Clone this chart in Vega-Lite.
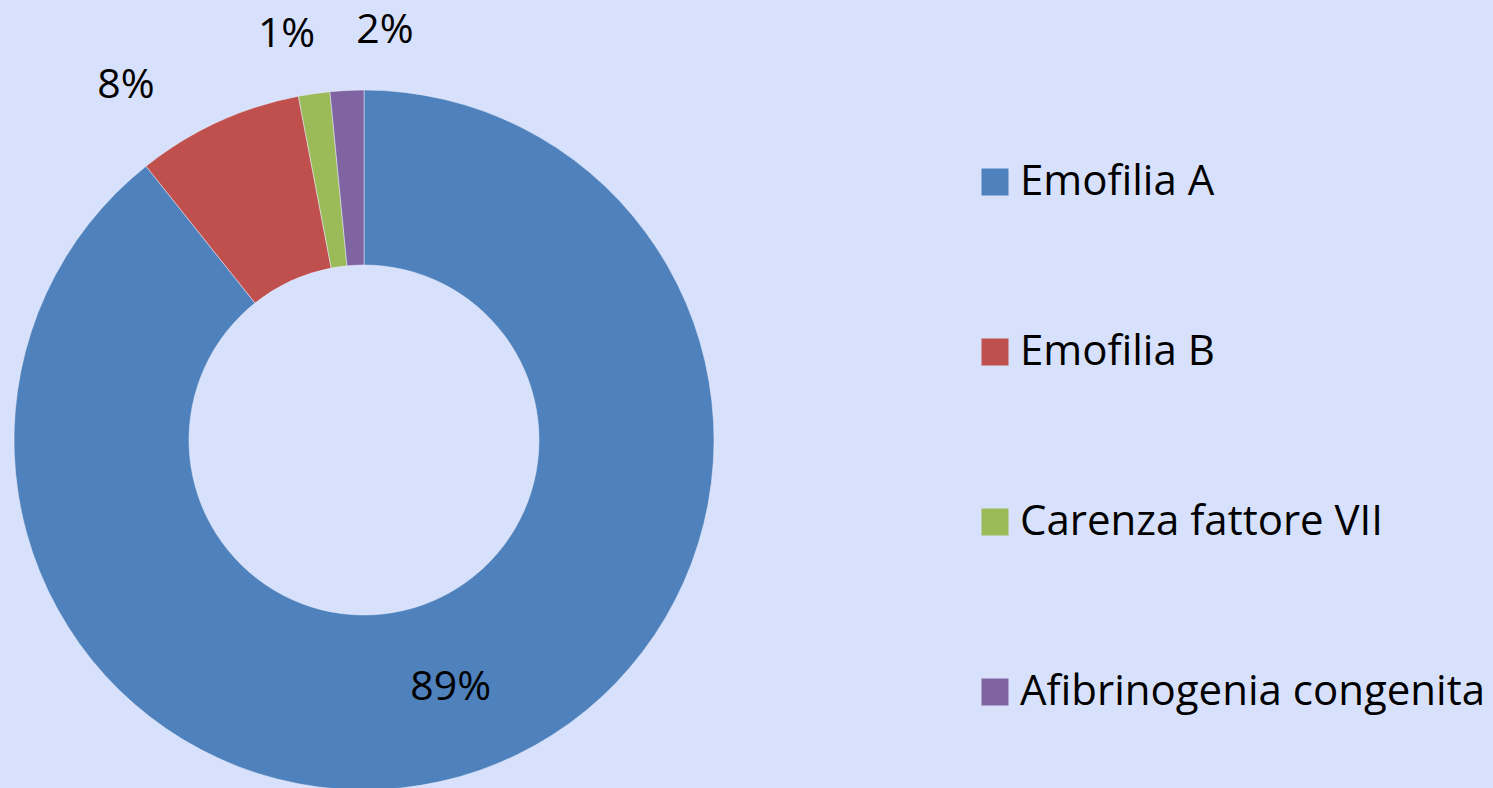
{
  "$schema": "https://vega.github.io/schema/vega-lite/v6.json",
  "autosize": {"type": "none"},
  "width": 728,
  "height": 880,
  "padding": {"left": 0, "top": 0, "right": 765, "bottom": 0},
  "background": "#d8e1fb",
  "config": {"view": {"stroke": null}, "font": "Open Sans"},
  "data": {
    "values": [
      {"n": 1, "patologia": "Emofilia A", "valore": 89.3, "etichetta": "89%"},
      {"n": 2, "patologia": "Emofilia B", "valore": 7.7, "etichetta": "8%"},
      {"n": 3, "patologia": "Carenza fattore VII", "valore": 1.45, "etichetta": "1%"},
      {"n": 4, "patologia": "Afibrinogenia congenita", "valore": 1.55, "etichetta": "2%"}
    ]
  },
  "encoding": {
    "theta": {"field": "valore", "type": "quantitative", "stack": true},
    "order": {"field": "n", "type": "quantitative"}
  },
  "layer": [
    {
      "mark": {"type": "arc", "outerRadius": 350, "innerRadius": 175, "stroke": "#e8eefc", "strokeWidth": 0.5},
      "encoding": {
        "color": {
          "field": "patologia",
          "type": "nominal",
          "sort": ["Emofilia A", "Emofilia B", "Carenza fattore VII", "Afibrinogenia congenita"],
          "scale": {
            "domain": ["Emofilia A", "Emofilia B", "Carenza fattore VII", "Afibrinogenia congenita"],
            "range": ["#4f81bd", "#c0504d", "#9bbb59", "#8064a2"]
          },
          "legend": {
            "title": null,
            "orient": "none",
            "legendX": 974,
            "legendY": 161,
            "padding": 0,
            "symbolType": "square",
            "symbolSize": 729,
            "symbolStrokeWidth": 0,
            "labelFontSize": 42,
            "labelFont": "Open Sans",
            "labelColor": "#000000",
            "labelOffset": 4,
            "rowPadding": 128,
            "labelLimit": 600
          }
        }
      }
    },
    {
      "mark": {
        "type": "text",
        "radius": {"expr": "datum.n == 1 ? 263 : 410"},
        "dx": {"expr": "datum.n == 2 ? -67 : datum.n == 3 ? -19 : datum.n == 4 ? 41 : 0"},
        "dy": {"expr": "datum.n == 2 ? 19 : datum.n == 1 ? 0 : 1"},
        "fontSize": 41,
        "baseline": "middle",
        "align": "center",
        "color": "#000000"
      },
      "encoding": {"text": {"field": "etichetta"}}
    }
  ]
}
